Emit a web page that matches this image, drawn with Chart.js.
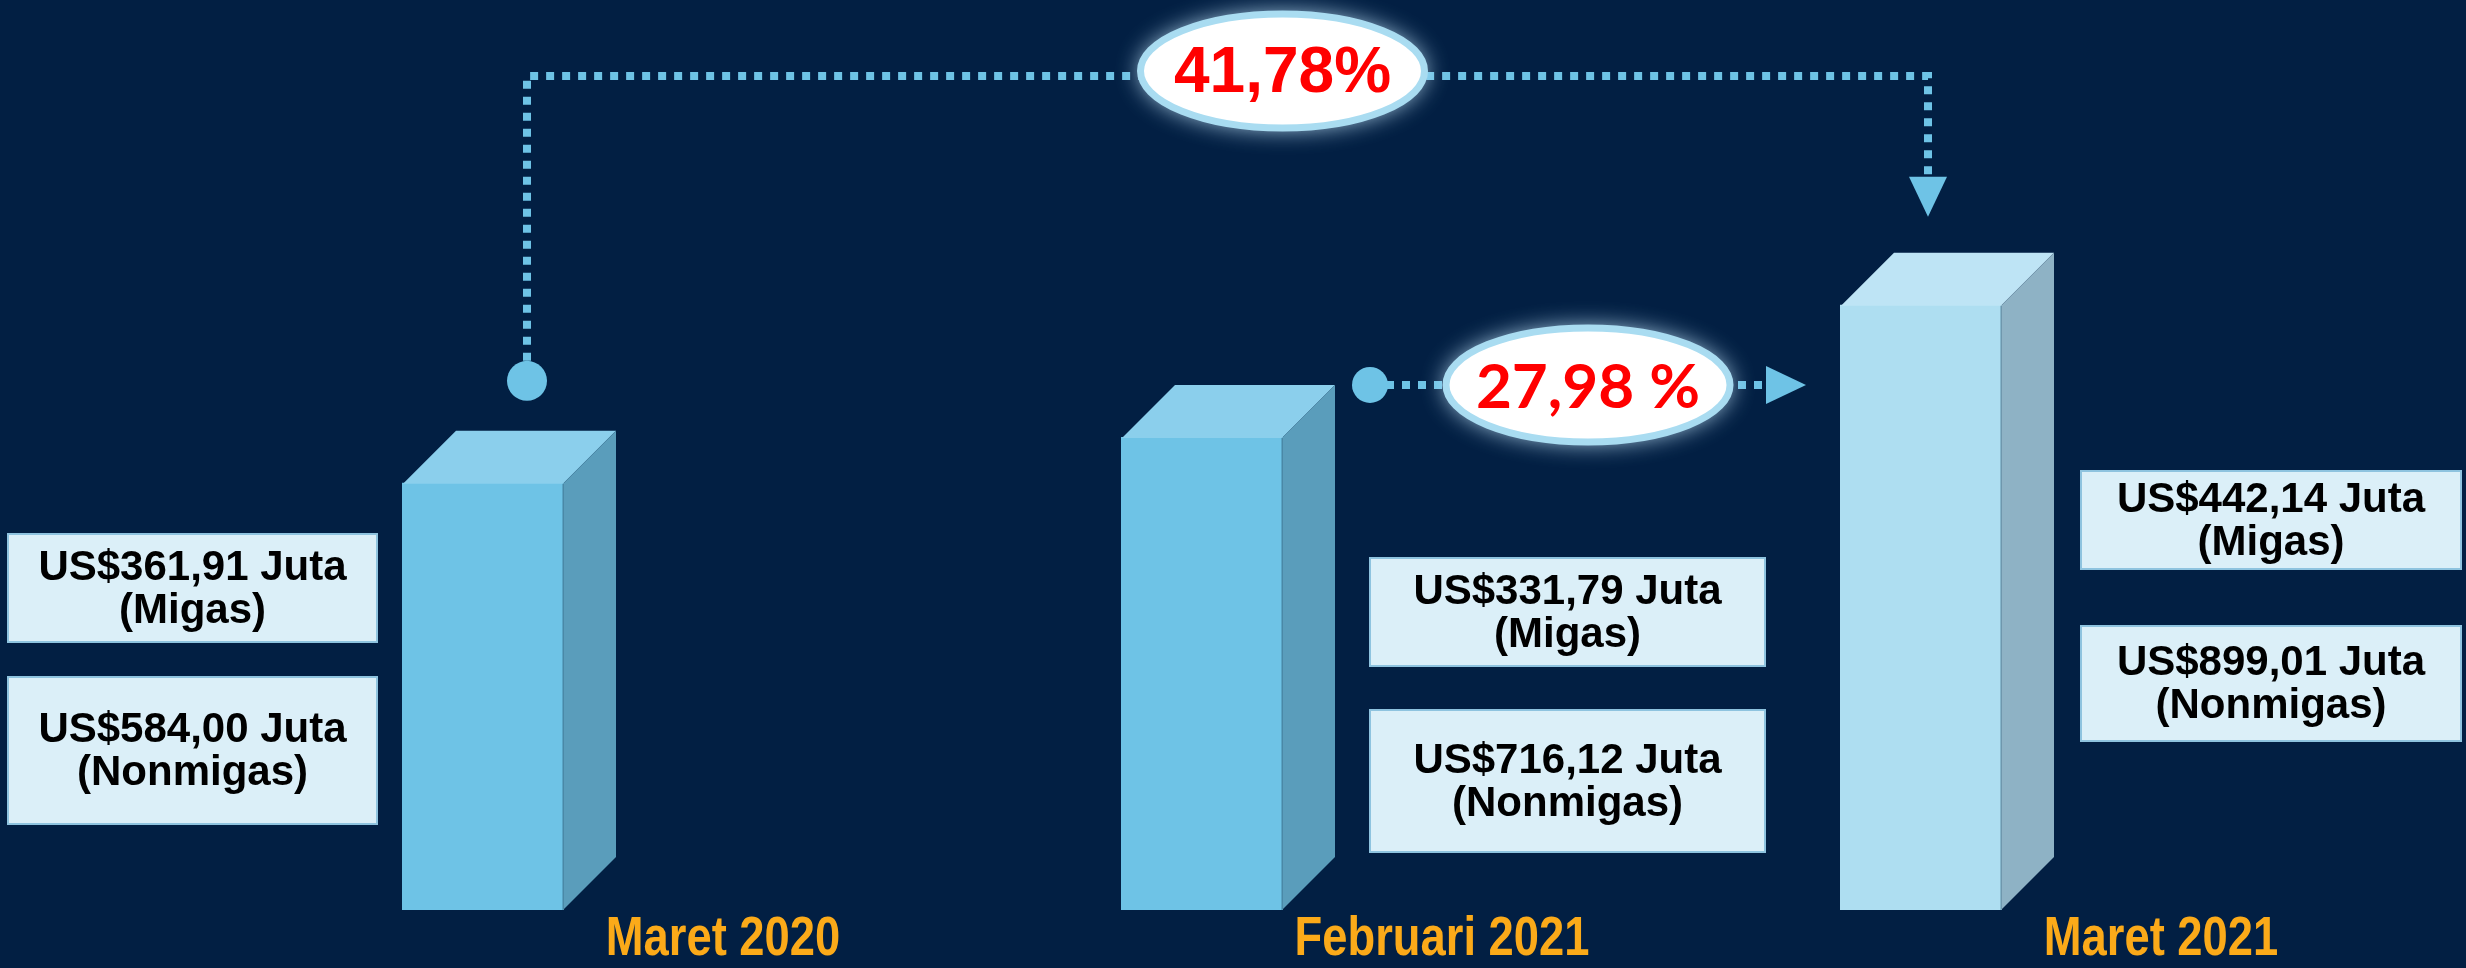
<!DOCTYPE html>
<html>
<head>
<meta charset="utf-8">
<script src="https://cdn.jsdelivr.net/npm/chart.js@4.4.1/dist/chart.umd.min.js"></script>
<style>
  html, body { margin: 0; padding: 0; background: #021f43; }
  canvas { display: block; }
</style>
</head>
<body>
<canvas id="chart" width="2466" height="968"></canvas>
<script>
// Data
const periods = ['Maret 2020', 'Februari 2021', 'Maret 2021'];
const migas = [361.91, 331.79, 442.14];
const nonmigas = [584.00, 716.12, 899.01];

// Styles
const frontColors = ['#6ec3e6', '#6ec3e6', '#aedef1'];
const topColors = ['#8bcfec', '#8bcfec', '#bee4f5'];
const sideColors = ['#5a9dbb', '#5a9dbb', '#8eb2c5'];
const DEPTH = 53;
const labelFont = '"Liberation Sans", Arial, sans-serif';

// where the value boxes sit next to each bar
const boxLayout = [
  { side: 'left', gap: 26, width: 369, rows: [[534, 642], [677, 824]] },
  { side: 'right', gap: 35, width: 395, rows: [[558, 666], [710, 852]] },
  { side: 'right', gap: 27, width: 380, rows: [[471, 569], [626, 741]] }
];

const fmt = v => v.toFixed(2).replace('.', ',');
const total = i => migas[i] + nonmigas[i];
const growth = (a, b) => fmt((total(b) - total(a)) / total(a) * 100);

const background = {
  id: 'background',
  beforeDraw(chart) {
    const ctx = chart.ctx;
    ctx.save();
    ctx.fillStyle = '#021f43';
    ctx.fillRect(0, 0, chart.width, chart.height);
    ctx.restore();
  }
};

// period labels under the bars, in a narrow bold face
const periodLabels = {
  id: 'periodLabels',
  afterDraw(chart) {
    const ctx = chart.ctx;
    const xs = chart.scales.x;
    ctx.save();
    ctx.fillStyle = '#fbaa19';
    ctx.font = 'bold 56px ' + labelFont;
    ctx.textAlign = 'center';
    ctx.textBaseline = 'alphabetic';
    periods.forEach((p, i) => {
      ctx.save();
      ctx.translate(xs.getPixelForValue(i) + 240, 955);
      ctx.scale(0.81, 1);
      ctx.fillText(p, 0, 0);
      ctx.restore();
    });
    ctx.restore();
  }
};

function dotted(ctx, pts) {
  ctx.save();
  ctx.strokeStyle = '#6ec3e6';
  ctx.lineWidth = 8;
  ctx.setLineDash([8, 8]);
  ctx.beginPath();
  ctx.moveTo(pts[0][0], pts[0][1]);
  for (let k = 1; k < pts.length; k++) ctx.lineTo(pts[k][0], pts[k][1]);
  ctx.stroke();
  ctx.restore();
}

function badge(ctx, cx, cy, text, font) {
  ctx.save();
  ctx.shadowColor = 'rgba(200,235,255,0.95)';
  ctx.shadowBlur = 24;
  ctx.beginPath();
  ctx.ellipse(cx, cy, 142, 57, 0, 0, Math.PI * 2);
  ctx.fillStyle = '#ffffff';
  ctx.fill();
  ctx.restore();
  ctx.save();
  ctx.beginPath();
  ctx.ellipse(cx, cy, 142, 57, 0, 0, Math.PI * 2);
  ctx.strokeStyle = '#a9dcf1';
  ctx.lineWidth = 7;
  ctx.stroke();
  ctx.fillStyle = '#ff0000';
  ctx.font = font;
  ctx.textAlign = 'center';
  ctx.textBaseline = 'middle';
  ctx.fillText(text, cx, cy + 3);
  ctx.restore();
}

const bar3d = {
  id: 'bar3d',
  afterDatasetsDraw(chart) {
    const ctx = chart.ctx;
    const metas = chart.getSortedVisibleDatasetMetas();
    const bars = periods.map((p, i) => {
      const els = metas.map(m => m.data[i]);
      const w = els[0].width;
      const x = els[0].x;
      return {
        x: x,
        xl: x - w / 2,
        xr: x + w / 2,
        top: Math.min(...els.map(e => e.y)),
        bottom: Math.max(...els.map(e => e.base))
      };
    });

    // top and side faces
    bars.forEach((b, i) => {
      ctx.save();
      ctx.beginPath();
      ctx.moveTo(b.xl, b.top);
      ctx.lineTo(b.xr, b.top);
      ctx.lineTo(b.xr + DEPTH, b.top - DEPTH);
      ctx.lineTo(b.xl + DEPTH, b.top - DEPTH);
      ctx.closePath();
      ctx.fillStyle = topColors[i];
      ctx.fill();
      ctx.beginPath();
      ctx.moveTo(b.xr, b.top);
      ctx.lineTo(b.xr + DEPTH, b.top - DEPTH);
      ctx.lineTo(b.xr + DEPTH, b.bottom - DEPTH);
      ctx.lineTo(b.xr, b.bottom);
      ctx.closePath();
      ctx.fillStyle = sideColors[i];
      ctx.fill();
      ctx.strokeStyle = 'rgba(40,90,120,0.6)';
      ctx.lineWidth = 1;
      ctx.beginPath();
      ctx.moveTo(b.xr, b.top);
      ctx.lineTo(b.xr, b.bottom);
      ctx.stroke();
      ctx.restore();
    });

    // value boxes
    bars.forEach((b, i) => {
      const lay = boxLayout[i];
      const left = lay.side === 'left' ? b.xl - lay.gap - lay.width : b.xr + DEPTH + lay.gap;
      const texts = [['US$' + fmt(migas[i]) + ' Juta', '(Migas)'], ['US$' + fmt(nonmigas[i]) + ' Juta', '(Nonmigas)']];
      lay.rows.forEach((r, k) => {
        ctx.save();
        ctx.fillStyle = '#dbeff8';
        ctx.fillRect(left, r[0], lay.width, r[1] - r[0]);
        ctx.strokeStyle = '#8ec3df';
        ctx.lineWidth = 2;
        ctx.strokeRect(left, r[0], lay.width, r[1] - r[0]);
        ctx.fillStyle = '#000000';
        ctx.font = 'bold 42px ' + labelFont;
        ctx.textAlign = 'center';
        ctx.textBaseline = 'middle';
        const cx = left + lay.width / 2;
        const cy = (r[0] + r[1]) / 2;
        ctx.fillText(texts[k][0], cx, cy - 20);
        ctx.fillText(texts[k][1], cx, cy + 23);
        ctx.restore();
      });
    });

    // growth Maret 2020 -> Maret 2021
    const b0 = bars[0], b1 = bars[1], b2 = bars[2];
    const c1x = b0.x + 44, c1y = b0.top - DEPTH - 50;
    const lineY = 76;
    const tipX = b2.x + 7, tipY = b2.top - DEPTH - 36;
    dotted(ctx, [[c1x, c1y - 20], [c1x, lineY], [tipX, lineY], [tipX, tipY - 38]]);
    ctx.save();
    ctx.fillStyle = '#6ec3e6';
    ctx.beginPath();
    ctx.arc(c1x, c1y, 20, 0, Math.PI * 2);
    ctx.fill();
    ctx.beginPath();
    ctx.moveTo(tipX - 19, tipY - 40);
    ctx.lineTo(tipX + 19, tipY - 40);
    ctx.lineTo(tipX, tipY);
    ctx.closePath();
    ctx.fill();
    ctx.restore();
    badge(ctx, (c1x + tipX) / 2 + 55, lineY - 5, growth(0, 2) + '%', 'bold 64px ' + labelFont);

    // growth Februari 2021 -> Maret 2021
    const c2x = b1.xr + DEPTH + 35, c2y = b1.top - DEPTH;
    const tip2X = b2.xl - 35;
    dotted(ctx, [[c2x, c2y], [tip2X - 38, c2y]]);
    ctx.save();
    ctx.fillStyle = '#6ec3e6';
    ctx.beginPath();
    ctx.arc(c2x, c2y, 18, 0, Math.PI * 2);
    ctx.fill();
    ctx.beginPath();
    ctx.moveTo(tip2X - 40, c2y - 19);
    ctx.lineTo(tip2X - 40, c2y + 19);
    ctx.lineTo(tip2X, c2y);
    ctx.closePath();
    ctx.fill();
    ctx.restore();
    badge(ctx, (c2x + tip2X) / 2, c2y, growth(1, 2) + ' %', 'bold 62px Lato, "Open Sans", sans-serif');
  }
};

new Chart(document.getElementById('chart'), {
  type: 'bar',
  data: {
    labels: periods,
    datasets: [
      { label: 'Migas', data: migas, backgroundColor: frontColors, borderWidth: 0, inflateAmount: 1, barThickness: 160 },
      { label: 'Nonmigas', data: nonmigas, backgroundColor: frontColors, borderWidth: 0, inflateAmount: 1, barThickness: 160 }
    ]
  },
  options: {
    responsive: false,
    animation: false,
    devicePixelRatio: 1,
    layout: { padding: { left: 123.5, right: 185.5, top: 0, bottom: 58 } },
    plugins: {
      legend: { display: false },
      tooltip: { enabled: false }
    },
    scales: {
      x: { stacked: true, display: false },
      y: { stacked: true, display: false, min: 0, max: 2020 }
    }
  },
  plugins: [background, bar3d, periodLabels]
});
</script>
</body>
</html>
